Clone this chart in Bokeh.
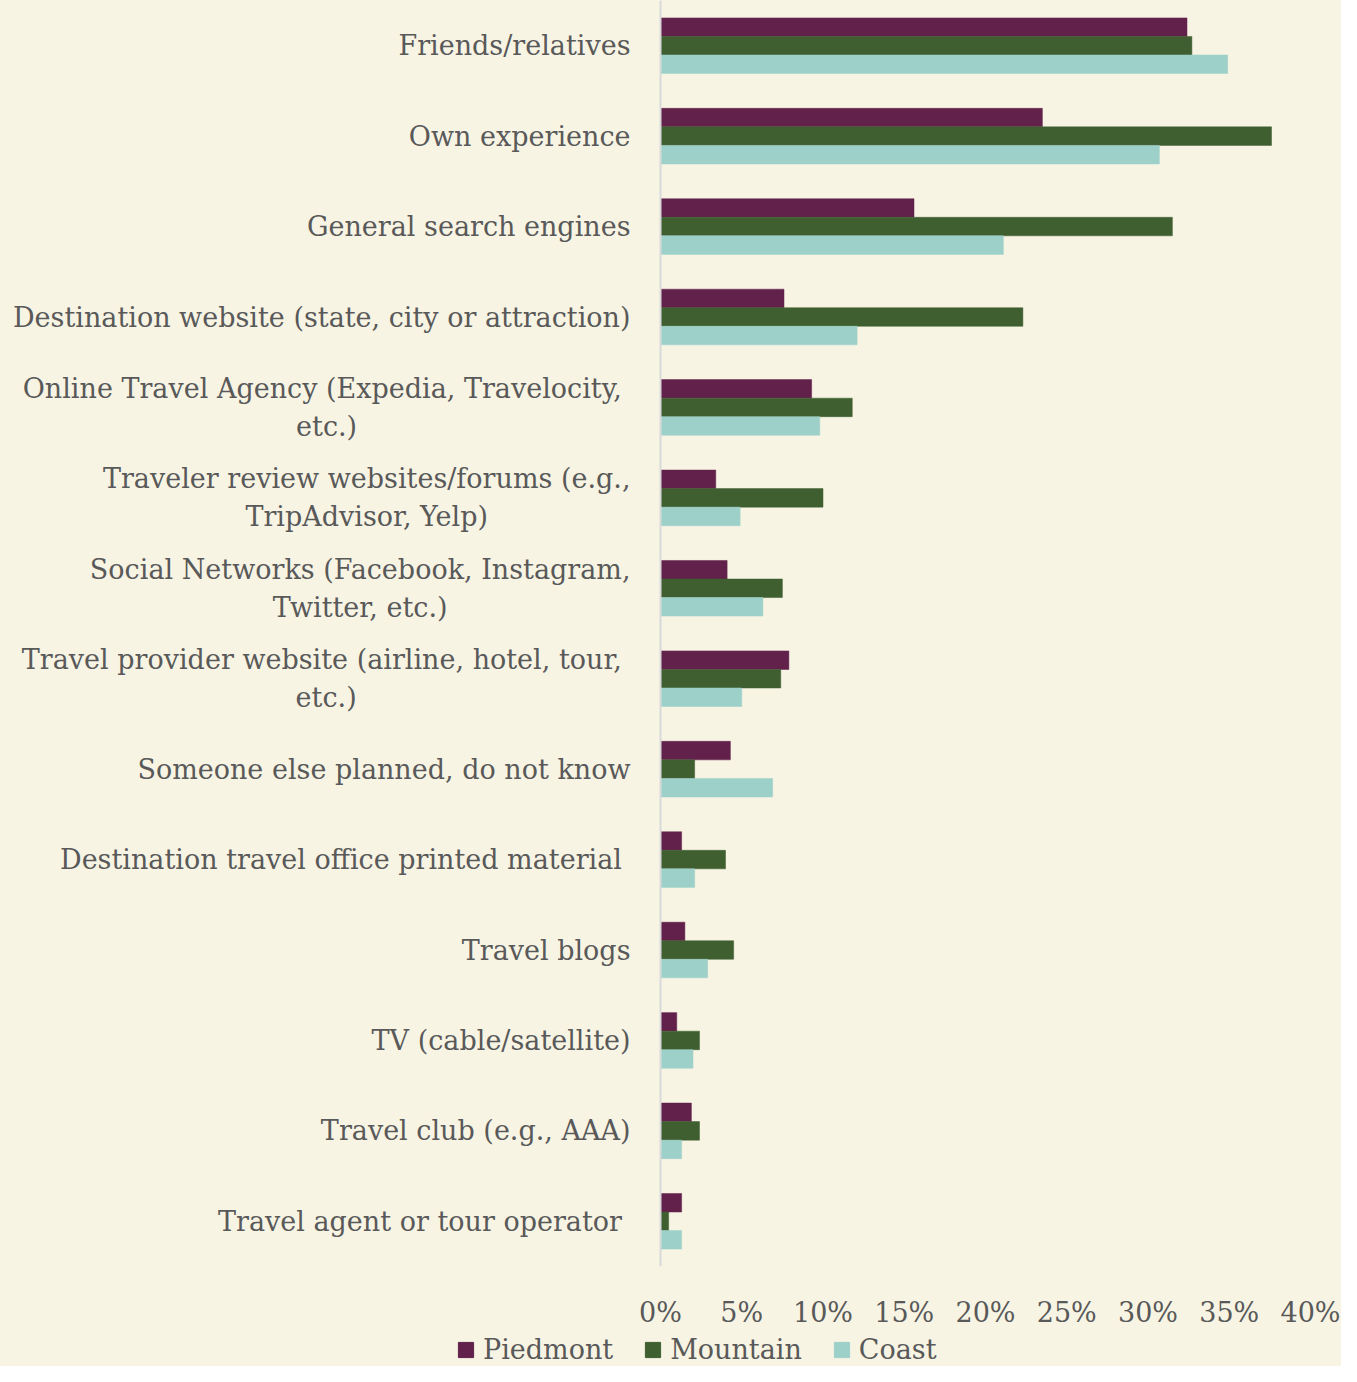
from bokeh.plotting import figure
from bokeh.layouts import column
from bokeh.models import Range1d, Span, Legend, LegendItem, PrintfTickFormatter, FixedTicker, ColumnDataSource
from bokeh.core.properties import value
from bokeh.embed import file_html
from bokeh.resources import INLINE

categories = [
    "Friends/relatives",
    "Own experience",
    "General search engines",
    "Destination website (state, city or attraction)",
    "Online Travel Agency (Expedia, Travelocity,\u00a0\netc.)",
    "Traveler review websites/forums (e.g.,\nTripAdvisor, Yelp)",
    "Social Networks (Facebook, Instagram,\nTwitter, etc.)",
    "Travel provider website (airline, hotel, tour,\u00a0\netc.)",
    "Someone else planned, do not know",
    "Destination travel office printed material\u00a0",
    "Travel blogs",
    "TV (cable/satellite)",
    "Travel club (e.g., AAA)",
    "Travel agent or tour operator\u00a0",
]
piedmont = [32.4, 23.5, 15.6, 7.6, 9.3, 3.4, 4.1, 7.9, 4.3, 1.3, 1.5, 1.0, 1.9, 1.3]
mountain = [32.7, 37.6, 31.5, 22.3, 11.8, 10.0, 7.5, 7.4, 2.1, 4.0, 4.5, 2.4, 2.4, 0.5]
coast = [34.9, 30.7, 21.1, 12.1, 9.8, 4.9, 6.3, 5.0, 6.9, 2.1, 2.9, 2.0, 1.3, 1.3]
series_names = ["Piedmont", "Mountain", "Coast"]
colors = ["#62214B", "#3F5F30", "#9DD0C9"]
x_ticks = [0, 5, 10, 15, 20, 25, 30, 35, 40]

BG = "#F7F4E4"
TXT = "#595959"
FONT = "DejaVu Serif"

W = 1341
H1, H2 = 1330, 36
frame_bottom = 1267
zero_px, max_px = 660, 1310          # pixel positions of 0% and 40%
frame_right = 1316
ppu = (max_px - zero_px) / 40.0
x_start = -zero_px / ppu
x_end = 40 + (frame_right - max_px) / ppu

p = figure(width=W, height=H1, output_backend="svg", toolbar_location=None,
           x_range=Range1d(x_start, x_end), y_range=Range1d(13.5, -0.5),
           min_border_left=0, min_border_right=W - frame_right, min_border_top=0,
           min_border_bottom=H1 - frame_bottom)
p.background_fill_alpha = 0
p.border_fill_color = BG
p.outline_line_color = None
p.grid.visible = False
p.yaxis.visible = False

idx = list(range(len(categories)))
bar_h = 0.205
offsets = [-bar_h, 0.0, bar_h]
for vals, off, col in zip([piedmont, mountain, coast], offsets, colors):
    src = ColumnDataSource(dict(y=[i + off for i in idx], right=vals))
    p.hbar(y="y", right="right", left=0, height=bar_h, source=src,
           fill_color=col, line_color=col, line_width=0.5)

p.add_layout(Span(location=0, dimension="height", line_color="#D9D9D9", line_width=2))

lab_src = ColumnDataSource(dict(y=idx, x=[0] * len(idx), text=categories))
p.text(x="x", y="y", text="text", source=lab_src, x_offset=-30,
       text_align="center", anchor=value("center_right"), text_baseline="middle",
       text_font=value(FONT), text_font_size="27px", text_color=TXT, text_line_height=1.22)

xa = p.xaxis[0]
xa.ticker = FixedTicker(ticks=x_ticks)
xa.formatter = PrintfTickFormatter(format="%d%%")
xa.axis_line_color = None
xa.major_tick_line_color = None
xa.minor_tick_line_color = None
xa.major_label_standoff = 24
xa.major_label_text_font = FONT
xa.major_label_text_font_size = "27px"
xa.major_label_text_color = TXT

# legend strip
q = figure(width=W, height=H2, output_backend="svg", toolbar_location=None,
           x_range=Range1d(0, 1), y_range=Range1d(0, 1), x_axis_type=None, y_axis_type=None,
           min_border_left=0, min_border_right=0, min_border_top=0, min_border_bottom=0)
q.background_fill_alpha = 0
q.border_fill_color = BG
q.outline_line_color = None
q.grid.visible = False
leg_renderers = []
for col in colors:
    # single off-screen bar per series, only used as the legend swatch
    r = q.hbar(y=[-10], right=[1], left=0, height=0.5, fill_color=col, line_color=col)
    leg_renderers.append(r)

legend = Legend(items=[LegendItem(label=n, renderers=[r]) for n, r in zip(series_names, leg_renderers)],
                orientation="horizontal", location=(456, 1),
                background_fill_alpha=0, border_line_color=None, padding=0, margin=0,
                glyph_width=19, glyph_height=19, label_standoff=8, spacing=30,
                label_text_font=FONT, label_text_font_size="27px", label_text_color=TXT)
q.add_layout(legend, "center")

layout = column(p, q, spacing=0, styles={"background-color": BG})
open("out.html", "w").write(file_html(layout, INLINE))
